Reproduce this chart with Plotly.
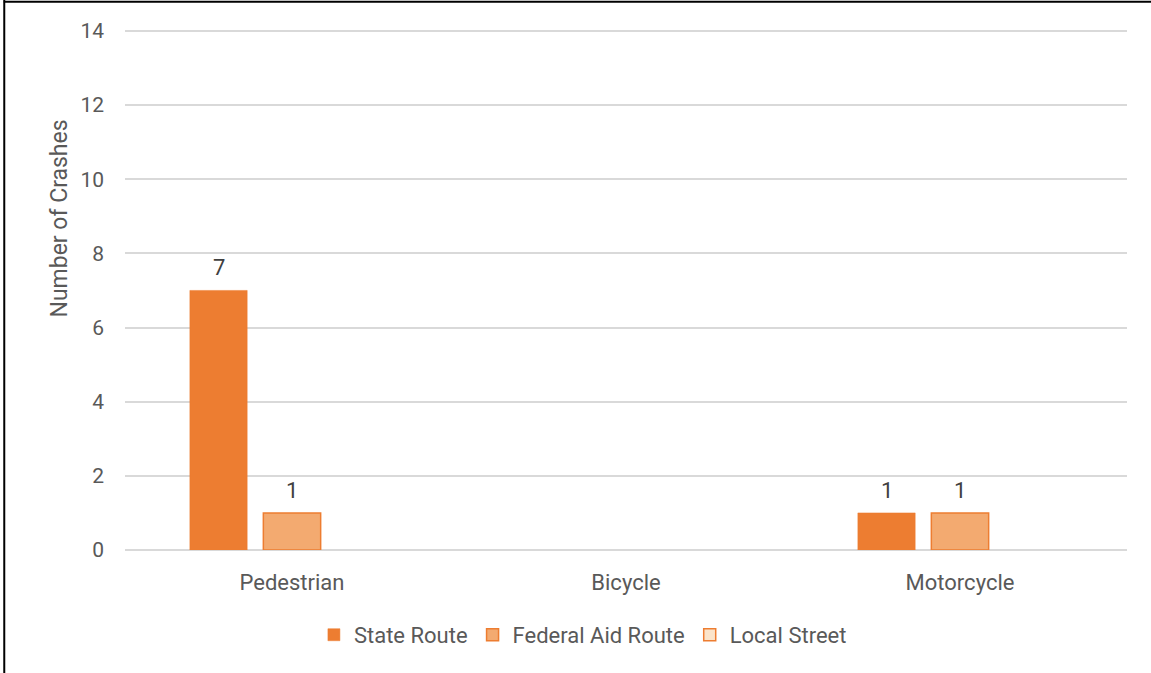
import plotly.graph_objects as go

# Crash counts by road type
categories = ["Pedestrian", "Bicycle", "Motorcycle"]
state_route = [7, None, 1]
federal_aid_route = [1, None, 1]
local_street = [None, None, None]

series_names = ["State Route", "Federal Aid Route", "Local Street"]
y_ticks = [0, 2, 4, 6, 8, 10, 12, 14]
y_title = "Number of Crashes"

fills = ["#ED7D31", "#F3AA70", "#FBE4CA"]
edges = ["#ED7D31", "#ED7D31", "#ED7D31"]

BARGAP = 0.34
N_SERIES = 3
slot = (1 - BARGAP) / N_SERIES
xs = list(range(len(categories)))

text_color = "#595959"
font_family = "Roboto, 'Open Sans', Arial, sans-serif"

fig = go.Figure()
all_series = [state_route, federal_aid_route, local_street]
for k, (name, vals) in enumerate(zip(series_names, all_series)):
    fig.add_trace(go.Bar(
        x=xs, y=vals, name=name,
        marker=dict(color=fills[k], line=dict(color=edges[k], width=1.5 if k else 0.5)),
        hoverinfo="x+y+name",
    ))

# value labels above each bar
annotations = []
for k, vals in enumerate(all_series):
    offset = (k - (N_SERIES - 1) / 2) * slot
    for i, v in enumerate(vals):
        if v is None:
            continue
        annotations.append(dict(
            x=i + offset, y=v, xref="x", yref="y",
            text=str(v), showarrow=False, yanchor="bottom", yshift=8,
            font=dict(size=22, color="#404040", family=font_family),
        ))

# vertical axis title, set a little above the middle of the axis
annotations.append(dict(
    x=-0.065, y=0.636, xref="paper", yref="paper", text=y_title, textangle=-90,
    showarrow=False, xanchor="center", yanchor="middle",
    font=dict(size=23, color=text_color, family=font_family),
))

# frame lines along the top and left edges
shapes = [
    dict(type="line", xref="paper", yref="paper", x0=-0.121, x1=1.03, y0=1.0525, y1=1.0525,
         line=dict(color="#000000", width=2)),
    dict(type="line", xref="paper", yref="paper", x0=-0.1205, x1=-0.1205, y0=1.06, y1=-0.24,
         line=dict(color="#000000", width=2)),
]

fig.update_layout(
    width=1151, height=673,
    margin=dict(l=125, r=24, t=29, b=123),
    paper_bgcolor="white", plot_bgcolor="white",
    barmode="group", bargap=BARGAP, bargroupgap=0.22,
    font=dict(family=font_family, color=text_color, size=22),
    showlegend=True,
    legend=dict(
        orientation="h", x=0.457, xanchor="center", y=-0.163, yanchor="middle",
        font=dict(size=22, color=text_color), itemwidth=30, traceorder="normal",
    ),
    xaxis=dict(
        range=[-0.5, 2.5], tickvals=xs, ticktext=categories,
        showgrid=False, zeroline=False, showline=False, ticks="",
        ticklabelstandoff=17, tickfont=dict(size=22, color=text_color),
    ),
    yaxis=dict(
        range=[0, 14.05], tickvals=y_ticks, showgrid=True, gridcolor="#D9D9D9", gridwidth=1.5,
        zeroline=True, zerolinecolor="#D9D9D9", zerolinewidth=1.5, showline=False,
        ticks="", ticklabelstandoff=20, tickfont=dict(size=21, color=text_color),
    ),
    annotations=annotations,
    shapes=shapes,
)

fig.write_html("out.html")
